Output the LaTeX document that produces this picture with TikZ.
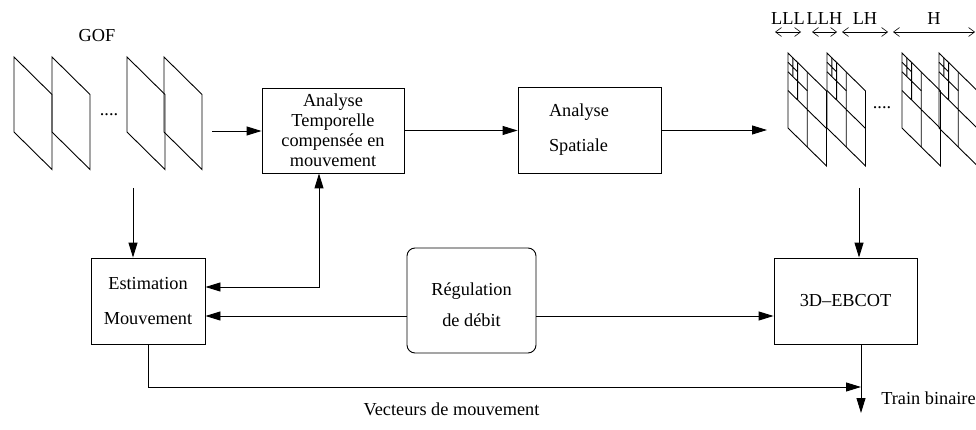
\documentclass[tikz,border=0pt]{standalone}
\usepackage{fontspec}
\setmainfont{Liberation Serif}
\usetikzlibrary{arrows.meta}

% one frame of the group, top-left corner at (#1,#2)
\newcommand{\plainframe}[2]{%
  \begin{scope}[shift={(#1,#2)},x={(38pt,-37.5pt)},y={(0pt,-75pt)}]
    \draw (0,0) -- (1,0) -- (1,1) -- (0,1) -- cycle;
  \end{scope}}
% the same frame cut into three levels of subbands
\newcommand{\subbandframe}[2]{%
  \begin{scope}[shift={(#1,#2)},x={(38.5pt,-38pt)},y={(0pt,-75pt)}]
    \draw (0,0) -- (1,0) -- (1,1) -- (0,1) -- cycle;
    \draw (0,.5) -- (1,.5) (.5,0) -- (.5,1);
    \draw (0,.25) -- (.5,.25) (.25,0) -- (.25,.5);
    \draw (0,.125) -- (.25,.125) (.125,0) -- (.125,.25);
  \end{scope}}

\begin{document}
\begin{tikzpicture}[x=1pt,y=-1pt,line width=0.9pt,font=\fontsize{18.3}{20}\selectfont]
  \tikzstyle{block}=[draw,rectangle,minimum width=143pt,minimum height=86pt,inner sep=2pt]
  \tikzstyle{flow}=[-{Triangle[length=15pt,width=9pt]}]
  \tikzstyle{flowboth}=[{Triangle[length=15pt,width=9pt]}-{Triangle[length=15pt,width=9pt]}]
  \tikzstyle{widthspan}=[line width=0.6pt,{Straight Barb[length=6pt,width=9pt]}-{Straight Barb[length=6pt,width=9pt]}]
  \useasboundingbox (0,0) rectangle (976,430);
  \clip (0,0) rectangle (976,430);

  % input frames and coded subbands
  \foreach \x in {14,52,127,164} {\plainframe{\x}{57}}
  \foreach \x in {788,827,902,939} {\subbandframe{\x}{53}}
  \node (gof) at (97,36) {GOF};
  \node[anchor=base] (dotsin) at (109,116) {....};
  \node[anchor=base] (dotsout) at (882,109) {....};
  \foreach \a/\b/\n in {775/801/LLL,812/837/LLH,842/888/LH,893/975/H} {
    \coordinate (\n-l) at (\a,32);
    \coordinate (\n-r) at (\b,32);
    \draw[widthspan] (\n-l) -- node[above=7pt,inner sep=0pt] (\n-lbl) {\n} (\n-r);
  }

  % blocks
  \node[block,minimum width=142pt,minimum height=85pt,align=center] (temporelle) at (333,130.5)
    {Analyse\\Temporelle\\compensée en\\mouvement};
  \node[block,align=left,text width=81pt,inner xsep=31pt] (spatiale) at (589.5,130)
    {Analyse\\[15pt]Spatiale};
  \node[block,minimum width=114pt,align=center] (estimation) at (148,301)
    {Estimation\\[15pt]Mouvement};
  \node[block,rounded corners=8pt,minimum width=129pt,minimum height=105pt,align=center] (regulation) at (471.5,300.5)
    {\rule{0pt}{22pt}Régulation\\[11pt]de débit};
  \node[block] (ebcot) at (845.5,301) {3D--EBCOT};

  % connectors
  \coordinate (gofright) at (212,131);
  \coordinate (gofdown) at (133,188);
  \coordinate (subin) at (767,131);
  \coordinate (subdown) at (859,188);
  \coordinate (feedback) at (319,287);
  \coordinate (rate) at (0,316);
  \coordinate (stream) at (861,413);
  \coordinate (vectors) at (861,387);
  \draw[flow] (gofright) -- (gofright -| temporelle.west);
  \draw[flow] (temporelle.east) -- (spatiale.west |- temporelle.east);
  \draw[flow] (spatiale.east) -- (subin |- spatiale.east);
  \draw[flow] (gofdown) -- (gofdown |- estimation.north);
  \draw[flowboth] (estimation.east |- feedback) -- (feedback) -- (feedback |- temporelle.south);
  \draw[flow] (regulation.west |- rate) -- (estimation.east |- rate);
  \draw[flow] (regulation.east |- rate) -- (ebcot.west |- rate);
  \draw[flow] (subdown) -- (subdown |- ebcot.north);
  \draw[flow] (stream |- ebcot.south) -- (stream);
  \draw[flow] (estimation.south) |- (vectors);
  \node (trainbin) at (928.5,398.5) {Train binaire};
  \node (vecteurs) at (451.5,409) {Vecteurs de mouvement};
\end{tikzpicture}
\end{document}
